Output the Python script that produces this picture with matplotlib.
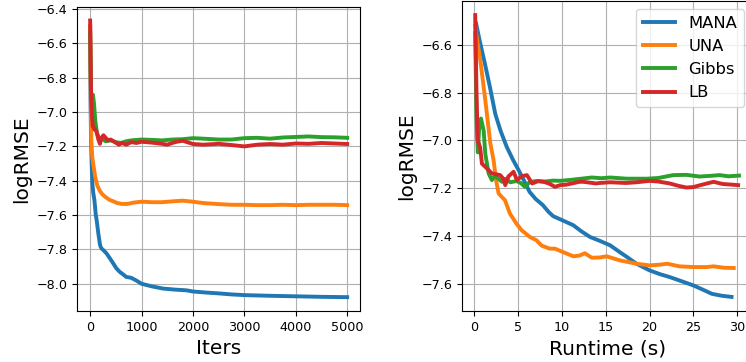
import matplotlib
matplotlib.use("Agg")
import matplotlib.pyplot as plt

# ---------------- Left panel: logRMSE vs iterations ----------------
mana_it = [0, 5, 10, 20, 32, 45, 60, 83, 110, 127, 159, 190, 204, 223, 260, 318, 380, 446, 510, 573,
           640, 701, 796, 892, 1000, 1200, 1420, 1650, 1870, 2000, 2250, 2500, 2750, 3000, 3500, 4000, 4500, 5000]
mana_v = [-6.50, -6.80, -7.00, -7.20, -7.32, -7.42, -7.47, -7.513, -7.60, -7.63, -7.707, -7.77, -7.785, -7.795,
          -7.805, -7.823, -7.85, -7.88, -7.91, -7.93, -7.945, -7.96, -7.965, -7.98, -8.0, -8.015, -8.028,
          -8.034, -8.038, -8.045, -8.051, -8.056, -8.062, -8.066, -8.07, -8.073, -8.076, -8.078]

una_it = [0, 8, 15, 25, 40, 64, 100, 142, 190, 240, 300, 370, 450, 530, 620, 725, 850, 1000, 1200, 1400,
          1600, 1800, 2000, 2200, 2500, 2750, 3000, 3250, 3500, 3750, 4000, 4250, 4500, 4750, 5000]
una_v = [-6.50, -6.80, -7.00, -7.19, -7.26, -7.31, -7.38, -7.43, -7.46, -7.48, -7.495, -7.51, -7.52, -7.53,
         -7.535, -7.535, -7.527, -7.522, -7.525, -7.525, -7.52, -7.516, -7.522, -7.53, -7.536, -7.54, -7.54,
         -7.542, -7.542, -7.54, -7.542, -7.54, -7.54, -7.54, -7.542]

gibbs_it = [0, 20, 35, 55, 75, 100, 130, 170, 200, 250, 300, 400, 500, 600, 700, 800, 1000, 1200, 1400,
            1600, 1800, 2000, 2200, 2500, 2750, 3000, 3250, 3500, 3750, 4000, 4250, 4500, 4750, 5000]
gibbs_v = [-6.54, -6.90, -7.00, -6.90, -6.95, -7.05, -7.12, -7.15, -7.155, -7.16, -7.17, -7.165, -7.175,
           -7.18, -7.17, -7.165, -7.16, -7.162, -7.165, -7.16, -7.158, -7.152, -7.155, -7.16, -7.16, -7.152,
           -7.15, -7.155, -7.148, -7.145, -7.142, -7.146, -7.147, -7.15]

lb_it = [0, 15, 30, 50, 80, 120, 160, 190, 220, 260, 300, 350, 400, 480, 560, 620, 700, 800, 900, 1000,
         1200, 1400, 1500, 1650, 1800, 2000, 2200, 2500, 2750, 3000, 3250, 3500, 3750, 4000, 4250, 4500, 4750, 5000]
lb_v = [-6.467, -6.85, -7.00, -7.08, -7.10, -7.11, -7.16, -7.185, -7.15, -7.135, -7.15, -7.165, -7.16, -7.175,
        -7.19, -7.18, -7.19, -7.175, -7.18, -7.173, -7.178, -7.185, -7.19, -7.175, -7.167, -7.186, -7.19,
        -7.185, -7.192, -7.20, -7.19, -7.186, -7.19, -7.183, -7.185, -7.18, -7.183, -7.186]

# ---------------- Right panel: logRMSE vs runtime (s) ----------------
mana_t = [0.2, 0.6, 1.2, 1.8, 2.4, 3.0, 3.7, 4.4, 5.05, 5.7, 6.3, 7.0, 7.8, 8.5, 9.0, 10.1, 11.3, 12.2, 13.2,
          14.3, 15.5, 16.5, 17.5, 18.5, 20.0, 21.2, 22.3, 23.7, 25.0, 26.1, 27.1, 28.2, 29.35]
mana_tv = [-6.51, -6.58, -6.677, -6.78, -6.89, -6.96, -7.027, -7.08, -7.124, -7.17, -7.215, -7.245, -7.27,
           -7.30, -7.317, -7.335, -7.355, -7.38, -7.404, -7.42, -7.439, -7.465, -7.49, -7.516, -7.544, -7.56,
           -7.572, -7.59, -7.607, -7.625, -7.642, -7.65, -7.655]

una_t = [0.1, 0.4, 0.68, 1.25, 1.82, 2.2, 2.5, 2.77, 3.1, 3.5, 4.06, 4.8, 5.4, 6.34, 7.1, 7.67, 8.6, 9.2, 10.1,
         11.3, 12.0, 12.6, 13.4, 14.3, 15.1, 16.6, 18.5, 20.0, 21.2, 22.0, 23.4, 25.0, 26.5, 27.3, 28.5, 29.6]
una_tv = [-6.52, -6.60, -6.663, -6.83, -7.01, -7.083, -7.17, -7.222, -7.235, -7.25, -7.306, -7.348, -7.376,
          -7.404, -7.418, -7.44, -7.453, -7.453, -7.467, -7.485, -7.482, -7.472, -7.491, -7.49, -7.485,
          -7.502, -7.516, -7.523, -7.52, -7.516, -7.527, -7.53, -7.53, -7.527, -7.533, -7.534]

gibbs_t = [0.1, 0.25, 0.4, 0.55, 0.76, 1.07, 1.25, 1.63, 2.0, 2.3, 2.57, 3.15, 3.6, 4.1, 4.8, 5.3, 5.77, 6.3,
           7.0, 8.0, 9.0, 9.8, 11.0, 12.2, 13.4, 14.5, 15.5, 17.4, 19.7, 21.0, 22.7, 24.2, 25.7, 27.0, 28.0,
           29.0, 30.2]
gibbs_tv = [-6.55, -6.90, -7.05, -6.95, -6.908, -6.96, -7.055, -7.138, -7.166, -7.15, -7.155, -7.173, -7.16,
            -7.175, -7.17, -7.178, -7.194, -7.175, -7.17, -7.172, -7.168, -7.169, -7.165, -7.16, -7.155,
            -7.158, -7.155, -7.16, -7.16, -7.157, -7.145, -7.144, -7.151, -7.148, -7.145, -7.15, -7.147]

lb_t = [0.1, 0.25, 0.38, 0.67, 0.87, 1.44, 2.01, 2.96, 3.3, 3.53, 3.9, 4.48, 4.86, 5.4, 6.0, 6.6, 7.3, 7.9,
        8.5, 9.2, 9.8, 10.5, 12.0, 12.45, 13.9, 14.3, 15.5, 17.3, 18.5, 20.0, 21.0, 22.3, 23.3, 24.2, 25.0,
        26.0, 27.3, 28.3, 30.1]
lb_tv = [-6.475, -6.80, -6.998, -7.03, -7.097, -7.117, -7.138, -7.145, -7.16, -7.187, -7.15, -7.131, -7.166,
         -7.15, -7.145, -7.18, -7.17, -7.173, -7.18, -7.194, -7.187, -7.185, -7.173, -7.173, -7.18, -7.178,
         -7.175, -7.178, -7.175, -7.169, -7.172, -7.18, -7.19, -7.197, -7.195, -7.185, -7.173, -7.182, -7.187]

labels = ["MANA", "UNA", "Gibbs", "LB"]
colors = ["#1f77b4", "#ff7f0e", "#2ca02c", "#d62728"]

plt.rcParams['font.family'] = ['DejaVu Sans']
fig = plt.figure(figsize=(7.46, 3.62), dpi=100)
ax1 = fig.add_axes([77.3 / 746, 51 / 362, 282.7 / 746, 304.3 / 362])
ax2 = fig.add_axes([462 / 746, 51 / 362, 290.2 / 746, 310 / 362])

lw = 2.8
for x, y, c, lab in zip([mana_it, una_it, gibbs_it, lb_it], [mana_v, una_v, gibbs_v, lb_v], colors, labels):
    ax1.plot(x, y, color=c, lw=lw, label=lab)
for x, y, c, lab in zip([mana_t, una_t, gibbs_t, lb_t], [mana_tv, una_tv, gibbs_tv, lb_tv], colors, labels):
    ax2.plot(x, y, color=c, lw=lw, label=lab)

for ax in (ax1, ax2):
    ax.grid(True, color="#b0b0b0", lw=0.8)
    ax.tick_params(labelsize=9.2)
    ax.set_ylabel("logRMSE", fontsize=14.5)

ax1.set_xlabel("Iters", fontsize=14.5)
ax2.set_xlabel("Runtime (s)", fontsize=14.5)
ax1.set_yticks([-6.4, -6.6, -6.8, -7.0, -7.2, -7.4, -7.6, -7.8, -8.0])
ax2.set_yticks([-6.6, -6.8, -7.0, -7.2, -7.4, -7.6])
ax2.set_xticks([0, 5, 10, 15, 20, 25, 30])
ax2.legend(loc="upper right", fontsize=11.8)

fig.savefig("out.png", dpi=100)
